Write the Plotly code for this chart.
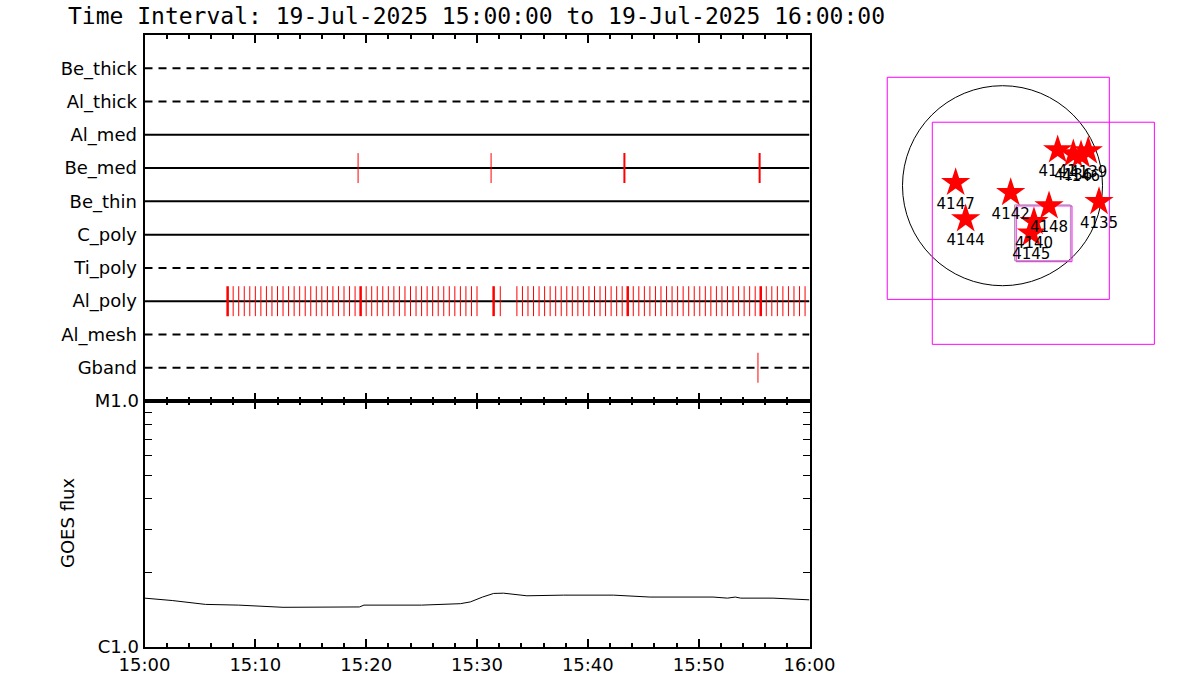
import plotly.graph_objects as go
from datetime import datetime, timedelta

# ---------------- data ----------------
T0 = datetime(2025, 7, 19, 15, 0, 0)
T1 = datetime(2025, 7, 19, 16, 0, 0)

channels = ["Gband", "Al_mesh", "Al_poly", "Ti_poly", "C_poly",
            "Be_thin", "Be_med", "Al_med", "Al_thick", "Be_thick"]
channel_dashed = [True, True, False, True, False,
                  False, False, False, True, True]

# observation times, minutes after 15:00
be_med_min = [19.27, 31.27, 43.3, 55.5]
be_med_strong = [False, False, True, True]
gband_min = [55.35]
al_poly_min = [7.5, 8.0, 8.5, 9.0, 9.5, 10.0, 10.5, 11.0, 11.5, 12.0, 12.5, 13.0,
               13.5, 14.0, 14.5, 15.0, 15.5, 16.0, 16.5, 17.0, 17.5, 18.0, 18.5,
               19.0, 19.5, 20.0, 20.5, 21.0, 21.5, 22.0, 22.5, 23.0, 23.5, 24.0,
               24.5, 25.0, 25.5, 26.0, 26.5, 27.0, 27.5, 28.0, 28.5, 29.0, 29.5,
               30.0, 31.5, 32.1, 33.6, 34.1, 34.6, 35.1, 35.6, 36.1, 36.6, 37.1,
               37.6, 38.1, 38.6, 39.1, 39.6, 40.1, 40.6, 41.1, 41.6, 42.1, 42.6,
               43.1, 43.6, 44.1, 44.6, 45.1, 45.6, 46.1, 46.6, 47.1, 47.6, 48.1,
               48.6, 49.1, 49.6, 50.1, 50.6, 51.1, 51.6, 52.1, 52.6, 53.1, 53.6,
               54.1, 54.6, 55.1, 55.6, 56.1, 56.6, 57.1, 57.6, 58.1, 58.6, 59.1,
               59.6]
al_poly_strong_min = [7.5, 19.5, 31.5, 43.6, 55.6]

goes_min = [0, 2.5, 5.5, 8.5, 12.5, 17, 19.4, 19.8, 25, 28.5, 29.4, 30.5, 31.5,
            32.4, 33.5, 34.5, 37.8, 42.3, 45.6, 51.3, 52.6, 53.3, 53.8, 56.7, 60]
goes_flux = [1.58e-6, 1.545e-6, 1.49e-6, 1.48e-6, 1.45e-6, 1.45e-6, 1.455e-6,
             1.48e-6, 1.48e-6, 1.50e-6, 1.525e-6, 1.596e-6, 1.651e-6, 1.655e-6,
             1.63e-6, 1.615e-6, 1.625e-6, 1.625e-6, 1.596e-6, 1.596e-6, 1.58e-6,
             1.596e-6, 1.58e-6, 1.58e-6, 1.555e-6]

goes_ticks = [1e-6, 1e-5]
goes_ticktext = ["C1.0", "M1.0"]
goes_minor = [2e-6, 3e-6, 4e-6, 5e-6, 6e-6, 7e-6, 8e-6, 9e-6]

# solar map (arcsec)
sun_radius = 950
ar_names = ["4147", "4144", "4142", "4148", "4140", "4145", "4135",
            "4141", "4136", "4146", "4139"]
ar_x = [-445, -350, 78, 442, 299, 274, 917, 524, 673, 746, 815]
ar_y = [29, -316, -67, -193, -342, -452, -152, 339, 301, 292, 330]

fov_cx = [-40, 388, 395, 380]
fov_cy = [-25, -452, -457, -447]
fov_size = [2110, 2110, 530, 530]
fov_color = ["#ff00ff", "#ff00ff", "#ff00ff", "#999999"]

# ---------------- figure ----------------
def tm(m):
    return T0 + timedelta(minutes=m)

W, H = 1200, 700


def fx(p):
    return p / W


def fy(p):
    return 1 - p / H


FONT = "DejaVu Sans"
fig = go.Figure()

# channel baselines
for i, (ch, dsh) in enumerate(zip(channels, channel_dashed)):
    row = i + 1
    fig.add_trace(go.Scatter(
        x=[T0, T1], y=[row, row], mode="lines",
        line=dict(color="black", width=2, dash="8px,6px" if dsh else "solid"),
        xaxis="x", yaxis="y", hoverinfo="skip", showlegend=False))


def add_ticks(times, row, width):
    xs, ys = [], []
    for m in times:
        xs += [tm(m), tm(m), None]
        ys += [row - 0.45, row + 0.45, None]
    if xs:
        fig.add_trace(go.Scatter(x=xs, y=ys, mode="lines",
                                 line=dict(color="#ff0000", width=width),
                                 xaxis="x", yaxis="y", hoverinfo="skip",
                                 showlegend=False))


row_of = {c: i + 1 for i, c in enumerate(channels)}
add_ticks([m for m, s in zip(be_med_min, be_med_strong) if not s], row_of["Be_med"], 1)
add_ticks([m for m, s in zip(be_med_min, be_med_strong) if s], row_of["Be_med"], 2)
add_ticks(gband_min, row_of["Gband"], 1)
add_ticks([m for m in al_poly_min if m not in al_poly_strong_min], row_of["Al_poly"], 1)
add_ticks(al_poly_strong_min, row_of["Al_poly"], 2.5)

# GOES curve
fig.add_trace(go.Scatter(
    x=[tm(m) for m in goes_min], y=goes_flux, mode="lines",
    line=dict(color="black", width=1), xaxis="x2", yaxis="y2",
    hoverinfo="skip", showlegend=False))

# solar map stars
fig.add_trace(go.Scatter(
    x=ar_x, y=ar_y, mode="markers+text", text=ar_names,
    textposition="bottom center",
    textfont=dict(family=FONT, size=15, color="black"),
    marker=dict(symbol="star", size=22, color="#ff0000", line=dict(width=0)),
    xaxis="x3", yaxis="y3", hoverinfo="skip", showlegend=False,
    cliponaxis=False))

shapes = [dict(type="circle", xref="x3", yref="y3",
               x0=-sun_radius, x1=sun_radius, y0=-sun_radius, y1=sun_radius,
               line=dict(color="black", width=1), layer="below")]
for cx, cy, s, c in zip(fov_cx, fov_cy, fov_size, fov_color):
    shapes.append(dict(type="rect", xref="x3", yref="y3",
                       x0=cx - s / 2, x1=cx + s / 2, y0=cy - s / 2, y1=cy + s / 2,
                       line=dict(color=c, width=1), layer="below"))

# geometry (window pixels)
px0, px1 = 144.5, 809.5
top_y0, top_y1 = 35, 401
low_y0, low_y1 = 401, 647
xd = [fx(px0), fx(px1)]

tickfont = dict(family=FONT, size=18, color="black")
common_x = dict(type="date", range=[T0, T1], showline=True, linewidth=2,
                linecolor="black", mirror="ticks", ticks="inside", ticklen=8,
                tickwidth=2, tickcolor="black", dtick=600000, tick0=T0,
                showgrid=False, zeroline=False, automargin=False,
                minor=dict(ticks="inside", ticklen=4, tickwidth=2,
                           tickcolor="black", dtick=120000, tick0=T0,
                           showgrid=False))

# right panel: 320x320 px square at (860..1180, 50..370)
scale = 9.5
cxp, cyp = 1002.5, 185.7
rx = [(860 - cxp) * scale, (1180 - cxp) * scale]
ry = [(cyp - 370) * scale, (cyp - 50) * scale]

fig.update_layout(
    width=W, height=H, autosize=False,
    margin=dict(l=0, r=0, t=0, b=0, autoexpand=False),
    paper_bgcolor="white", plot_bgcolor="white",
    showlegend=False,
    xaxis=dict(domain=xd, anchor="y", showticklabels=False, **common_x),
    yaxis=dict(domain=[fy(top_y1), fy(top_y0)], range=[0, 11],
               tickvals=list(range(1, 11)), ticktext=channels, ticks="",
               ticklabelstandoff=2,
               showline=True, linewidth=2, linecolor="black", mirror=True,
               showgrid=False, zeroline=False, tickfont=tickfont,
               automargin=False, fixedrange=True),
    xaxis2=dict(domain=xd, anchor="y2", tickformat="%H:%M",
                tickfont=tickfont, **common_x),
    yaxis2=dict(domain=[fy(low_y1), fy(low_y0)], type="log",
                range=[-6, -5], tickvals=goes_ticks, ticktext=goes_ticktext,
                ticks="inside", ticklen=8, tickwidth=2, tickcolor="black",
                showline=True, linewidth=2, linecolor="black", mirror="ticks",
                showgrid=False, zeroline=False, tickfont=tickfont,
                automargin=False,
                minor=dict(ticks="inside", ticklen=7, tickwidth=1,
                           tickcolor="black", tickvals=goes_minor,
                           showgrid=False)),
    xaxis3=dict(domain=[fx(860), fx(1180)], anchor="y3", range=rx,
                visible=False, showgrid=False, zeroline=False,
                automargin=False),
    yaxis3=dict(domain=[fy(370), fy(50)], anchor="x3", range=ry,
                visible=False, showgrid=False, zeroline=False,
                automargin=False),
    shapes=shapes,
    annotations=[
        dict(text="Time Interval: 19-Jul-2025 15:00:00 to 19-Jul-2025 16:00:00",
             xref="paper", yref="paper", x=fx(476), y=fy(16),
             xanchor="center", yanchor="middle", showarrow=False, borderpad=0,
             font=dict(family="DejaVu Sans Mono", size=23, color="black")),
        dict(text="GOES flux", xref="paper", yref="paper",
             x=fx(67), y=fy(523), xanchor="center", yanchor="middle",
             textangle=-90, showarrow=False,
             font=dict(family=FONT, size=18, color="black")),
    ],
)

fig.write_html("out.html",
               config={"displayModeBar": False},
               post_script="document.body.style.margin='0px';"
                           "document.body.style.overflow='hidden';")
